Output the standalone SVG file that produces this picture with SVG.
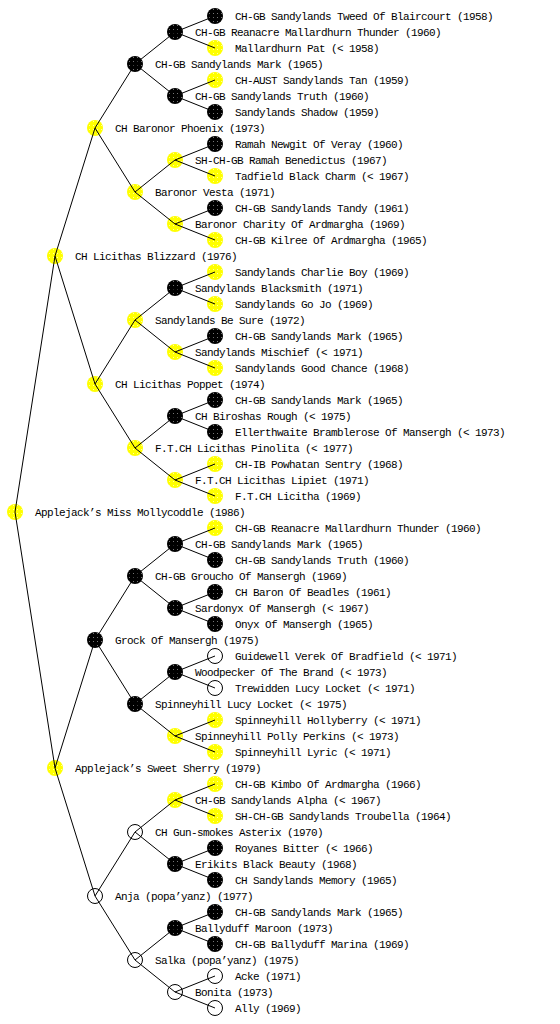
<svg xmlns="http://www.w3.org/2000/svg" width="560" height="1024" viewBox="0 0 560 1024">
<style>
text{font-family:"Liberation Mono","DejaVu Sans Mono",monospace;font-size:11px;letter-spacing:-0.6px;fill:#000}
.c{fill:none;stroke:#000;stroke-width:1}
.k{fill:url(#pk)}
.y{fill:url(#py)}
.w{fill:#fff;stroke:#000;stroke-width:1}
</style>
<defs>
<pattern id="pk" width="4" height="4" patternUnits="userSpaceOnUse"><rect width="4" height="4" fill="#000"/><rect x="1" y="1" width="1" height="1" fill="#777"/></pattern>
<pattern id="py" width="4" height="4" patternUnits="userSpaceOnUse"><rect width="4" height="4" fill="#ffff00"/><rect x="1" y="1" width="1" height="1" fill="#ffffa0"/></pattern>
</defs>
<rect width="560" height="1024" fill="#fff"/>
<g id="nodes">
<g id="n0"><circle class="y" cx="15" cy="512" r="8"/><text x="35" y="516">Applejack’s Miss Mollycoddle (1986)</text></g>
<g id="n1"><circle class="y" cx="55" cy="256" r="8"/><text x="75" y="260">CH Licithas Blizzard (1976)</text></g>
<g id="n2"><circle class="y" cx="55" cy="768" r="8"/><text x="75" y="772">Applejack’s Sweet Sherry (1979)</text></g>
<g id="n3"><circle class="y" cx="95" cy="128" r="8"/><text x="115" y="132">CH Baronor Phoenix (1973)</text></g>
<g id="n4"><circle class="y" cx="95" cy="384" r="8"/><text x="115" y="388">CH Licithas Poppet (1974)</text></g>
<g id="n5"><circle class="k" cx="95" cy="640" r="8"/><text x="115" y="644">Grock Of Mansergh (1975)</text></g>
<g id="n6"><circle class="w" cx="95" cy="896" r="7.5"/><text x="115" y="900">Anja (popa’yanz) (1977)</text></g>
<g id="n7"><circle class="k" cx="135" cy="64" r="8"/><text x="155" y="68">CH-GB Sandylands Mark (1965)</text></g>
<g id="n8"><circle class="y" cx="135" cy="192" r="8"/><text x="155" y="196">Baronor Vesta (1971)</text></g>
<g id="n9"><circle class="y" cx="135" cy="320" r="8"/><text x="155" y="324">Sandylands Be Sure (1972)</text></g>
<g id="n10"><circle class="y" cx="135" cy="448" r="8"/><text x="155" y="452">F.T.CH Licithas Pinolita (&lt; 1977)</text></g>
<g id="n11"><circle class="k" cx="135" cy="576" r="8"/><text x="155" y="580">CH-GB Groucho Of Mansergh (1969)</text></g>
<g id="n12"><circle class="k" cx="135" cy="704" r="8"/><text x="155" y="708">Spinneyhill Lucy Locket (&lt; 1975)</text></g>
<g id="n13"><circle class="w" cx="135" cy="832" r="7.5"/><text x="155" y="836">CH Gun-smokes Asterix (1970)</text></g>
<g id="n14"><circle class="w" cx="135" cy="960" r="7.5"/><text x="155" y="964">Salka (popa’yanz) (1975)</text></g>
<g id="n15"><circle class="k" cx="175" cy="32" r="8"/><text x="195" y="36">CH-GB Reanacre Mallardhurn Thunder (1960)</text></g>
<g id="n16"><circle class="k" cx="175" cy="96" r="8"/><text x="195" y="100">CH-GB Sandylands Truth (1960)</text></g>
<g id="n17"><circle class="y" cx="175" cy="160" r="8"/><text x="195" y="164">SH-CH-GB Ramah Benedictus (1967)</text></g>
<g id="n18"><circle class="y" cx="175" cy="224" r="8"/><text x="195" y="228">Baronor Charity Of Ardmargha (1969)</text></g>
<g id="n19"><circle class="k" cx="175" cy="288" r="8"/><text x="195" y="292">Sandylands Blacksmith (1971)</text></g>
<g id="n20"><circle class="y" cx="175" cy="352" r="8"/><text x="195" y="356">Sandylands Mischief (&lt; 1971)</text></g>
<g id="n21"><circle class="k" cx="175" cy="416" r="8"/><text x="195" y="420">CH Biroshas Rough (&lt; 1975)</text></g>
<g id="n22"><circle class="y" cx="175" cy="480" r="8"/><text x="195" y="484">F.T.CH Licithas Lipiet (1971)</text></g>
<g id="n23"><circle class="k" cx="175" cy="544" r="8"/><text x="195" y="548">CH-GB Sandylands Mark (1965)</text></g>
<g id="n24"><circle class="k" cx="175" cy="608" r="8"/><text x="195" y="612">Sardonyx Of Mansergh (&lt; 1967)</text></g>
<g id="n25"><circle class="k" cx="175" cy="672" r="8"/><text x="195" y="676">Woodpecker Of The Brand (&lt; 1973)</text></g>
<g id="n26"><circle class="y" cx="175" cy="736" r="8"/><text x="195" y="740">Spinneyhill Polly Perkins (&lt; 1973)</text></g>
<g id="n27"><circle class="y" cx="175" cy="800" r="8"/><text x="195" y="804">CH-GB Sandylands Alpha (&lt; 1967)</text></g>
<g id="n28"><circle class="k" cx="175" cy="864" r="8"/><text x="195" y="868">Erikits Black Beauty (1968)</text></g>
<g id="n29"><circle class="k" cx="175" cy="928" r="8"/><text x="195" y="932">Ballyduff Maroon (1973)</text></g>
<g id="n30"><circle class="w" cx="175" cy="992" r="7.5"/><text x="195" y="996">Bonita (1973)</text></g>
<g id="n31"><circle class="k" cx="215" cy="16" r="8"/><text x="235" y="20">CH-GB Sandylands Tweed Of Blaircourt (1958)</text></g>
<g id="n32"><circle class="y" cx="215" cy="48" r="8"/><text x="235" y="52">Mallardhurn Pat (&lt; 1958)</text></g>
<g id="n33"><circle class="y" cx="215" cy="80" r="8"/><text x="235" y="84">CH-AUST Sandylands Tan (1959)</text></g>
<g id="n34"><circle class="k" cx="215" cy="112" r="8"/><text x="235" y="116">Sandylands Shadow (1959)</text></g>
<g id="n35"><circle class="k" cx="215" cy="144" r="8"/><text x="235" y="148">Ramah Newgit Of Veray (1960)</text></g>
<g id="n36"><circle class="y" cx="215" cy="176" r="8"/><text x="235" y="180">Tadfield Black Charm (&lt; 1967)</text></g>
<g id="n37"><circle class="k" cx="215" cy="208" r="8"/><text x="235" y="212">CH-GB Sandylands Tandy (1961)</text></g>
<g id="n38"><circle class="y" cx="215" cy="240" r="8"/><text x="235" y="244">CH-GB Kilree Of Ardmargha (1965)</text></g>
<g id="n39"><circle class="y" cx="215" cy="272" r="8"/><text x="235" y="276">Sandylands Charlie Boy (1969)</text></g>
<g id="n40"><circle class="y" cx="215" cy="304" r="8"/><text x="235" y="308">Sandylands Go Jo (1969)</text></g>
<g id="n41"><circle class="k" cx="215" cy="336" r="8"/><text x="235" y="340">CH-GB Sandylands Mark (1965)</text></g>
<g id="n42"><circle class="y" cx="215" cy="368" r="8"/><text x="235" y="372">Sandylands Good Chance (1968)</text></g>
<g id="n43"><circle class="k" cx="215" cy="400" r="8"/><text x="235" y="404">CH-GB Sandylands Mark (1965)</text></g>
<g id="n44"><circle class="k" cx="215" cy="432" r="8"/><text x="235" y="436">Ellerthwaite Bramblerose Of Mansergh (&lt; 1973)</text></g>
<g id="n45"><circle class="y" cx="215" cy="464" r="8"/><text x="235" y="468">CH-IB Powhatan Sentry (1968)</text></g>
<g id="n46"><circle class="y" cx="215" cy="496" r="8"/><text x="235" y="500">F.T.CH Licitha (1969)</text></g>
<g id="n47"><circle class="y" cx="215" cy="528" r="8"/><text x="235" y="532">CH-GB Reanacre Mallardhurn Thunder (1960)</text></g>
<g id="n48"><circle class="k" cx="215" cy="560" r="8"/><text x="235" y="564">CH-GB Sandylands Truth (1960)</text></g>
<g id="n49"><circle class="k" cx="215" cy="592" r="8"/><text x="235" y="596">CH Baron Of Beadles (1961)</text></g>
<g id="n50"><circle class="k" cx="215" cy="624" r="8"/><text x="235" y="628">Onyx Of Mansergh (1965)</text></g>
<g id="n51"><circle class="w" cx="215" cy="656" r="7.5"/><text x="235" y="660">Guidewell Verek Of Bradfield (&lt; 1971)</text></g>
<g id="n52"><circle class="w" cx="215" cy="688" r="7.5"/><text x="235" y="692">Trewidden Lucy Locket (&lt; 1971)</text></g>
<g id="n53"><circle class="y" cx="215" cy="720" r="8"/><text x="235" y="724">Spinneyhill Hollyberry (&lt; 1971)</text></g>
<g id="n54"><circle class="y" cx="215" cy="752" r="8"/><text x="235" y="756">Spinneyhill Lyric (&lt; 1971)</text></g>
<g id="n55"><circle class="y" cx="215" cy="784" r="8"/><text x="235" y="788">CH-GB Kimbo Of Ardmargha (1966)</text></g>
<g id="n56"><circle class="y" cx="215" cy="816" r="8"/><text x="235" y="820">SH-CH-GB Sandylands Troubella (1964)</text></g>
<g id="n57"><circle class="k" cx="215" cy="848" r="8"/><text x="235" y="852">Royanes Bitter (&lt; 1966)</text></g>
<g id="n58"><circle class="k" cx="215" cy="880" r="8"/><text x="235" y="884">CH Sandylands Memory (1965)</text></g>
<g id="n59"><circle class="k" cx="215" cy="912" r="8"/><text x="235" y="916">CH-GB Sandylands Mark (1965)</text></g>
<g id="n60"><circle class="k" cx="215" cy="944" r="8"/><text x="235" y="948">CH-GB Ballyduff Marina (1969)</text></g>
<g id="n61"><circle class="w" cx="215" cy="976" r="7.5"/><text x="235" y="980">Acke (1971)</text></g>
<g id="n62"><circle class="w" cx="215" cy="1008" r="7.5"/><text x="235" y="1012">Ally (1969)</text></g>
</g>
<g id="connectors">
<path class="c" d="M15 512L55 256M15 512L55 768
M55 256L95 128M55 256L95 384M55 768L95 640M55 768L95 896
M95 128L135 64M95 128L135 192M95 384L135 320M95 384L135 448M95 640L135 576M95 640L135 704M95 896L135 832M95 896L135 960
M135 64L175 32M135 64L175 96M135 192L175 160M135 192L175 224M135 320L175 288M135 320L175 352M135 448L175 416M135 448L175 480
M135 576L175 544M135 576L175 608M135 704L175 672M135 704L175 736M135 832L175 800M135 832L175 864M135 960L175 928M135 960L175 992
M175 32L215 16M175 32L215 48M175 96L215 80M175 96L215 112M175 160L215 144M175 160L215 176M175 224L215 208M175 224L215 240
M175 288L215 272M175 288L215 304M175 352L215 336M175 352L215 368M175 416L215 400M175 416L215 432M175 480L215 464M175 480L215 496
M175 544L215 528M175 544L215 560M175 608L215 592M175 608L215 624M175 672L215 656M175 672L215 688M175 736L215 720M175 736L215 752
M175 800L215 784M175 800L215 816M175 864L215 848M175 864L215 880M175 928L215 912M175 928L215 944M175 992L215 976M175 992L215 1008"/>
</g>
</svg>
